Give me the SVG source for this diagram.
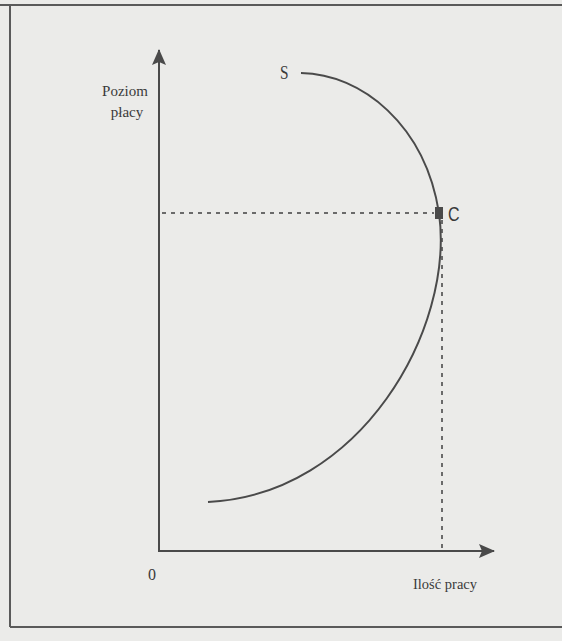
<svg xmlns="http://www.w3.org/2000/svg" width="562" height="641" viewBox="0 0 562 641">
<style>
.ln{stroke:#4a4a4a;fill:none;stroke-width:2}
.frame{stroke:#5a5a5a;fill:none;stroke-width:2}
.dash{stroke:#6a6a6a;fill:none;stroke-width:2;stroke-dasharray:4 5}
.lbl{font-family:"Liberation Serif",serif;fill:#3a3a3a}
.sans{font-family:"Liberation Sans",sans-serif;fill:#3a3a3a}
</style>
<defs>
<marker id="arr" viewBox="0 0 16 14" refX="15" refY="7" markerWidth="16" markerHeight="14" markerUnits="userSpaceOnUse" orient="auto">
<path d="M0,0 L16,7 L0,14 L3,7 Z" fill="#4a4a4a"/>
</marker>
</defs>
<rect width="562" height="641" fill="#ebebe9"/>
<g id="frame">
<path class="frame" d="M0,5 H562 M10,5 V627 M10,627 H562"/>
</g>
<g id="connectors">
<line class="ln" x1="159" y1="552" x2="159" y2="50" marker-end="url(#arr)"/>
<line class="ln" x1="158" y1="551" x2="494" y2="551" marker-end="url(#arr)"/>
<path class="dash" d="M162,213 H434"/>
<path class="dash" d="M442,220 V549"/>
<path class="ln" d="M301,73 C362,74 425,125 439,213 C455,330 360,495 208,502"/>
</g>
<g id="point-C">
<rect x="435" y="207" width="8" height="12" fill="#4a4a4a"/>
<text class="sans" x="0" y="0" font-size="20" transform="translate(448,221) scale(0.8,1)">C</text>
</g>
<g id="point-S">
<text class="lbl" x="0" y="0" font-size="18" transform="translate(280,79) scale(0.85,1)">S</text>
</g>
<g id="y-label">
<text class="lbl" x="125" y="96" font-size="15" text-anchor="middle">Poziom</text>
<text class="lbl" x="127" y="117" font-size="15" text-anchor="middle">płacy</text>
</g>
<g id="origin">
<text class="lbl" x="152" y="580" font-size="16" text-anchor="middle">0</text>
</g>
<g id="x-label">
<text class="lbl" x="413" y="589" font-size="14" textLength="64" lengthAdjust="spacingAndGlyphs">Ilość pracy</text>
</g>
</svg>
